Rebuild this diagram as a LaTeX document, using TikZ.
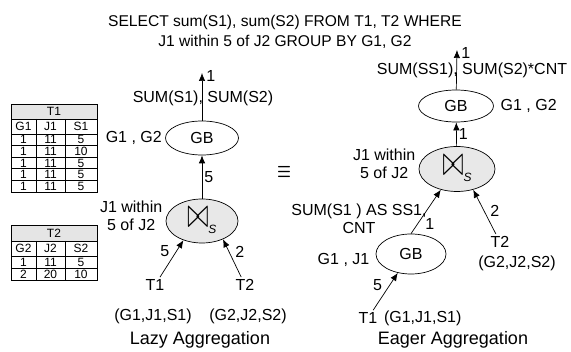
\documentclass[tikz,border=0pt]{standalone}
\usepackage{fontspec}
\setmainfont{Liberation Sans}
\usepackage{amssymb,graphicx}
\usetikzlibrary{arrows.meta,shapes.geometric,positioning}

\newcommand{\bandjoin}{\resizebox{21pt}{20pt}{$\bowtie$}\raisebox{-6pt}{\fontsize{12}{12}\selectfont\itshape S}}

\begin{document}
\begin{tikzpicture}[x=1pt,y=-1pt,line width=0.7pt,
    >={Latex[length=8pt,width=6.5pt]},
    every node/.style={font=\fontsize{16}{18}\selectfont,inner sep=2pt},
    op/.style={ellipse,draw,inner sep=0pt,minimum width=73pt,minimum height=34pt},
    joinop/.style={op,fill=gray!18,minimum height=44pt},
    tbl/.style={font=\fontsize{12}{13}\selectfont,inner sep=0pt},
    caption/.style={font=\fontsize{18}{20}\selectfont}]
  \useasboundingbox (0,0) rectangle (571,352);

  \node[align=center,font=\fontsize{15.6}{20}\selectfont] (query) at (285,32)
    {SELECT sum(S1), sum(S2) FROM T1, T2 WHERE\\J1 within 5 of J2 GROUP BY G1, G2};

  % table T1
  \fill[gray!20] (11,104) rectangle (97,119);
  \draw (11,104) rectangle (97,192);
  \draw (11,119) -- (97,119) (36,119) -- (36,192) (65,119) -- (65,192);
  \foreach \yy in {134,145.6,157.2,168.8,180.4} \draw (11,\yy) -- (97,\yy);
  \node[tbl] (t1name) at (54,111.5) {T1};
  \node[tbl] (t1-0-a) at (23.5,126.5) {G1};
  \node[tbl] (t1-0-b) at (50.5,126.5) {J1};
  \node[tbl] (t1-0-c) at (81,126.5) {S1};
  \foreach \va/\vb/\vc [count=\r] in {1/11/5,1/11/10,1/11/5,1/11/5,1/11/5} {
    \node[tbl] (t1-\r-a) at (23.5,{139.8+11.6*(\r-1)}) {\va};
    \node[tbl] (t1-\r-b) at (50.5,{139.8+11.6*(\r-1)}) {\vb};
    \node[tbl] (t1-\r-c) at (81,{139.8+11.6*(\r-1)}) {\vc};
  }

  % table T2
  \fill[gray!20] (11,225) rectangle (97,241);
  \draw (11,225) rectangle (97,280);
  \draw (11,241) -- (97,241) (11,256) -- (97,256) (11,268) -- (97,268)
        (36,241) -- (36,280) (65,241) -- (65,280);
  \node[tbl] (t2name) at (54,233) {T2};
  \node[tbl] (t2-0-a) at (23.5,248.5) {G2};
  \node[tbl] (t2-0-b) at (50.5,248.5) {J2};
  \node[tbl] (t2-0-c) at (81,248.5) {S2};
  \foreach \va/\vb/\vc [count=\r] in {1/11/5,2/20/10} {
    \node[tbl] (t2-\r-a) at (23.5,{262+12*(\r-1)}) {\va};
    \node[tbl] (t2-\r-b) at (50.5,{262+12*(\r-1)}) {\vb};
    \node[tbl] (t2-\r-c) at (81,{262+12*(\r-1)}) {\vc};
  }

  % lazy plan
  \node[op] (gbl) at (202,138) {GB};
  \node[joinop,minimum width=72pt] (joinl) at (202,221) {\bandjoin};
  \node[left=1pt of gbl] (grpl) {G1 , G2};
  \node[left=1pt of joinl,yshift=5pt,align=center] (condl) {J1 within\\5 of J2};
  \node (t1l) at (155,285) {T1};
  \node (t2l) at (245,285) {T2};
  \node (attl1) at (153,316) {(G1,J1,S1)};
  \node (attl2) at (248,316) {(G2,J2,S2)};
  \coordinate (outl) at (202,73);
  \node (aggl) at (203,98) {SUM(S1), SUM(S2)};
  \node[caption] (lazy) at (200,340) {Lazy Aggregation};

  \path[->] (joinl) edge node[auto,swap]{5} (gbl);
  \path[->] (gbl) edge node[pos=1,right,xshift=2pt,yshift=-3pt]{1} (outl);
  \path[->] (t1l) edge node[auto]{5} (joinl.226);
  \path[->] (t2l) edge node[auto,swap,pos=0.45]{2} (joinl.319);

  \node (equiv) at (284,172) {\resizebox{14pt}{11pt}{\boldmath$\equiv$}};

  % eager plan
  \node[op,minimum width=75pt,minimum height=32pt] (gbr) at (456,106) {GB};
  \node[joinop,minimum width=76pt,minimum height=45pt] (joinr) at (457,169) {\bandjoin};
  \node[op,minimum width=70pt,minimum height=40pt] (gbr2) at (411,254) {GB};
  \node[right=4.5pt of gbr] (grpr) {G1 , G2};
  \node[left=1pt of joinr,yshift=5pt,align=center] (condr) {J1 within\\5 of J2};
  \node[left=4pt of gbr2,yshift=-6pt] (grpr2) {G1 , J1};
  \node[align=center] (aggr2) at (359,219) {SUM(S1 ) AS SS1,\\CNT};
  \node (t2r) at (500,242) {T2};
  \node (attr2) at (517,263) {(G2,J2,S2)};
  \node (t1r) at (368,318) {T1};
  \node[right=2pt of t1r] (attr1) {(G1,J1,S1)};
  \coordinate (outr) at (457,50);
  \node (aggr) at (472,70) {SUM(SS1), SUM(S2)*CNT};
  \node[caption] (eager) at (453,340) {Eager Aggregation};

  \path[->] (joinr) edge node[auto,swap]{1} (gbr);
  \path[->] (gbr) edge node[pos=1,right,xshift=2pt,yshift=-3pt]{1} (outr);
  \path[->] (gbr2.north) edge node[auto,swap,pos=0.4]{1} (joinr.232);
  \path[->] (t2r) edge node[auto,swap,pos=0.35]{2} (joinr.308);
  \path[->] (t1r) edge node[auto,pos=0.45]{5} (gbr2.235);
\end{tikzpicture}
\end{document}
